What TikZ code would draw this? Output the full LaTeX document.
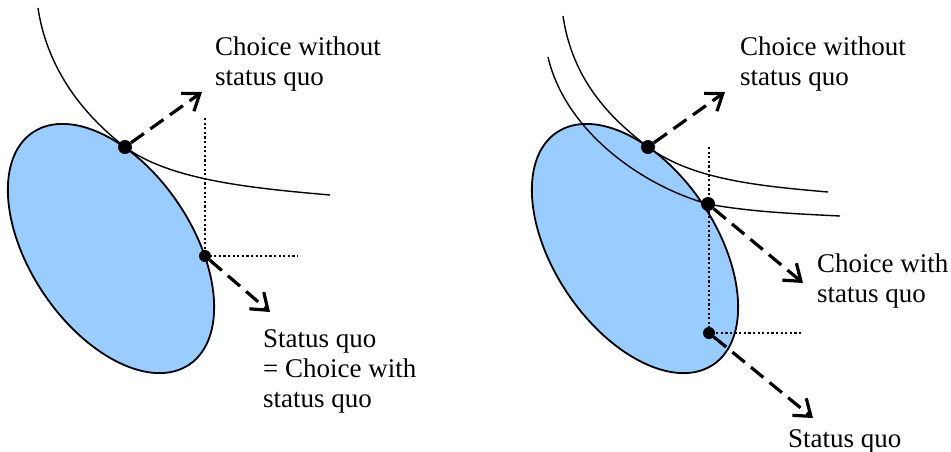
\documentclass[tikz,border=0pt]{standalone}
\usepackage{fontspec}
\setmainfont{Liberation Serif}
\usetikzlibrary{arrows.meta}
\definecolor{feasblue}{HTML}{99CCFF}
\tikzset{
  feasible/.style={draw=black, line width=1.8pt, fill=feasblue},
  indiff/.style={draw=black, line width=1.4pt},
  guide/.style={draw=black, line width=2.4pt, dash pattern=on 2.2pt off 2.4pt},
  shiftarrow/.style={draw=black, line width=3.2pt, dash pattern=on 16pt off 8pt,
    -{Straight Barb[length=15pt,width=22pt,line width=3.2pt]}},
  choicedot/.style={circle, fill=black, inner sep=0pt, minimum size=14pt},
  sqdot/.style={circle, fill=black, inner sep=0pt, minimum size=12pt},
  lbl/.style={anchor=base west, inner sep=0pt, align=left,
    font=\fontsize{27}{30}\selectfont}
}

\begin{document}
\begin{tikzpicture}[x=1pt,y=1pt]
\useasboundingbox (0,0) rectangle (951,-451);
% left panel: status quo = choice
\draw[feasible, rotate around={-56:(111,-248.5)}] (111,-248.5) ellipse [x radius=140, y radius=81];
\draw[indiff] (38,-8) .. controls (48,-75) and (90,-120) .. (125,-147)
  .. controls (170,-180) and (250,-188) .. (330,-195);
\node[choicedot] (lc) at (125,-147) {};
\node[sqdot] (ls) at (205,-256) {};
\coordinate (lv) at (205,-118);
\coordinate (lh) at (298,-256);
\coordinate (lcw) at (202,-92);
\coordinate (lsw) at (270,-312);
\draw[guide] (lv) -- (ls.center) -- (lh);
\draw[shiftarrow] (lc) -- (lcw);
\draw[shiftarrow] (ls) -- (lsw);
\node[lbl] (lcl) at (215,-85) {Choice without\\status quo};
\node[lbl] (lsl) at (263,-407) {Status quo\\= Choice with\\status quo};
% right panel: status quo inside
\draw[feasible, rotate around={-56:(635,-248.5)}] (635,-248.5) ellipse [x radius=140, y radius=81];
\draw[indiff] (563,-16) .. controls (573,-83) and (613,-120) .. (648,-147)
  .. controls (693,-180) and (760,-186) .. (828,-192);
\draw[indiff] (548,-57) .. controls (565,-130) and (640,-185) .. (708,-204)
  .. controls (750,-212) and (800,-214) .. (840,-216);
\node[choicedot] (rc) at (648,-147) {};
\node[choicedot] (rq) at (708,-204) {};
\node[sqdot] (rs) at (709,-333) {};
\coordinate (rv) at (709,-147);
\coordinate (rh) at (803,-333);
\coordinate (rcw) at (725,-92);
\coordinate (rqw) at (803,-283);
\coordinate (rsw) at (813,-418);
\draw[guide] (rv) -- (rs.center) -- (rh);
\draw[shiftarrow] (rc) -- (rcw);
\draw[shiftarrow] (rq) -- (rqw);
\draw[shiftarrow] (rs) -- (rsw);
\node[lbl] (rcl) at (740,-85) {Choice without\\status quo};
\node[lbl] (rql) at (817,-302) {Choice with\\status quo};
\node[lbl] (rsl) at (788,-447) {Status quo};
\end{tikzpicture}
\end{document}
